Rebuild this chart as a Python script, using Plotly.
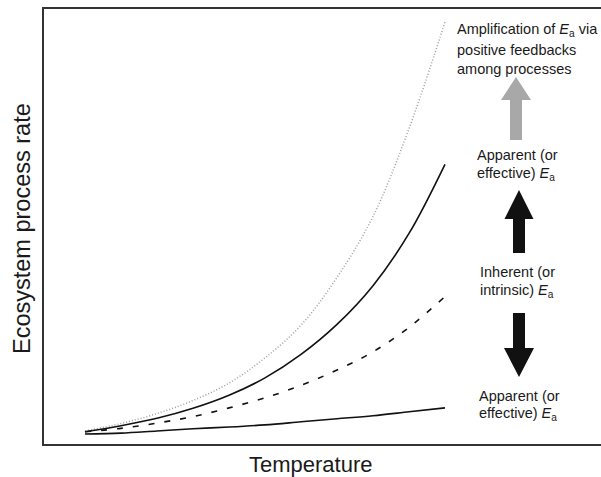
import plotly.graph_objects as go

# Temperature (arbitrary units) and process rates (arbitrary units)
temperature = [0, 1, 2, 3, 4, 5, 6, 7, 8, 9, 10]
rate_apparent_low = [2.3, 2.5, 3.0, 3.5, 3.9, 4.4, 5.1, 5.8, 6.5, 7.4, 8.3]
rate_inherent = [2.8, 3.6, 4.8, 6.3, 8.3, 10.6, 13.5, 17.0, 21.2, 26.8, 33.9]
rate_apparent_high = [2.8, 4.2, 5.9, 8.2, 11.2, 15.2, 20.6, 27.5, 36.4, 48.4, 64.3]
rate_amplified = [3.0, 4.7, 7.0, 10.0, 14.0, 19.8, 27.3, 38.3, 52.3, 72.5, 97.0]

x_title = "Temperature"
y_title = "Ecosystem process rate"
EA = "<i>E</i><sub>a</sub>"
label_amplified = ["Amplification of " + EA + " via", "positive feedbacks", "among processes"]
label_apparent_high = ["Apparent (or", "effective) " + EA]
label_inherent = ["Inherent (or", "intrinsic) " + EA]
label_apparent_low = ["Apparent (or", "effective) " + EA]

W, H = 601, 477
ML, MR, MT, MB = 44, 0, 9, 33
PW, PH = W - ML - MR, H - MT - MB
FONT = "Liberation Sans, Arial, Helvetica, sans-serif"


def px2paper(px, py):
    return (px - ML) / PW, (H - MB - py) / PH


fig = go.Figure()
line_kw = dict(shape="spline", smoothing=1.0)
fig.add_trace(go.Scatter(x=temperature, y=rate_amplified, mode="lines",
                         line=dict(color="#a0a0a0", width=1.5, dash="1px,2px", **line_kw)))
fig.add_trace(go.Scatter(x=temperature, y=rate_apparent_high, mode="lines",
                         line=dict(color="#111111", width=1.6, **line_kw)))
fig.add_trace(go.Scatter(x=temperature, y=rate_inherent, mode="lines",
                         line=dict(color="#111111", width=1.6, dash="6px,10px", **line_kw)))
fig.add_trace(go.Scatter(x=temperature, y=rate_apparent_low, mode="lines",
                         line=dict(color="#111111", width=1.6, **line_kw)))


def arrow_path(cx, y_tail, y_base, y_tip, shaft_half, head_half):
    pts = [
        (cx - shaft_half, y_tail), (cx - shaft_half, y_base), (cx - head_half, y_base),
        (cx, y_tip), (cx + head_half, y_base), (cx + shaft_half, y_base), (cx + shaft_half, y_tail),
    ]
    conv = [px2paper(x, y) for x, y in pts]
    return "M " + " L ".join(f"{a:.5f},{b:.5f}" for a, b in conv) + " Z"


shapes = [
    dict(type="path", xref="paper", yref="paper", path=arrow_path(516, 140, 100, 77, 6, 15),
         fillcolor="#a8a8a8", line=dict(width=0)),
    dict(type="path", xref="paper", yref="paper", path=arrow_path(519, 253, 219, 190, 6, 14.5),
         fillcolor="#111111", line=dict(width=0)),
    dict(type="path", xref="paper", yref="paper", path=arrow_path(519, 313, 348, 377, 6, 15),
         fillcolor="#111111", line=dict(width=0)),
]

annotations = []


def add_block(lines, left_px, centers_px):
    for txt, cy in zip(lines, centers_px):
        xp, yp = px2paper(left_px, cy)
        annotations.append(dict(x=xp, y=yp, xref="paper", yref="paper", text=txt,
                                showarrow=False, xanchor="left", yanchor="middle",
                                font=dict(family=FONT, size=14.5, color="#1a1a1a")))


add_block(label_amplified, 455, [30, 50, 69])
add_block(label_apparent_high, 475, [155, 174])
add_block(label_inherent, 478, [272, 291])
add_block(label_apparent_low, 477, [396, 414])

annotations.append(dict(x=px2paper(311, 0)[0], y=(H - MB - 464.5) / PH, xref="paper", yref="paper",
                        text=x_title, showarrow=False, xanchor="center", yanchor="middle",
                        font=dict(family=FONT, size=22, color="#1a1a1a")))
annotations.append(dict(x=(22 - ML) / PW, y=px2paper(0, 229)[1], xref="paper", yref="paper",
                        text=y_title, showarrow=False, xanchor="center", yanchor="middle",
                        textangle=-90, font=dict(family=FONT, size=23.5, color="#1a1a1a")))

fig.update_layout(
    width=W, height=H,
    margin=dict(l=ML, r=MR, t=MT, b=MB),
    paper_bgcolor="white", plot_bgcolor="white",
    showlegend=False,
    shapes=shapes, annotations=annotations,
    xaxis=dict(range=[(ML - 85) / 36, (W - 85) / 36], showgrid=False, zeroline=False,
               showticklabels=False, ticks="", showline=True, mirror=True,
               linecolor="#333333", linewidth=2),
    yaxis=dict(range=[0, 100], showgrid=False, zeroline=False, showticklabels=False,
               ticks="", showline=True, mirror=False, linecolor="#333333", linewidth=2),
)

fig.write_html("out.html")
